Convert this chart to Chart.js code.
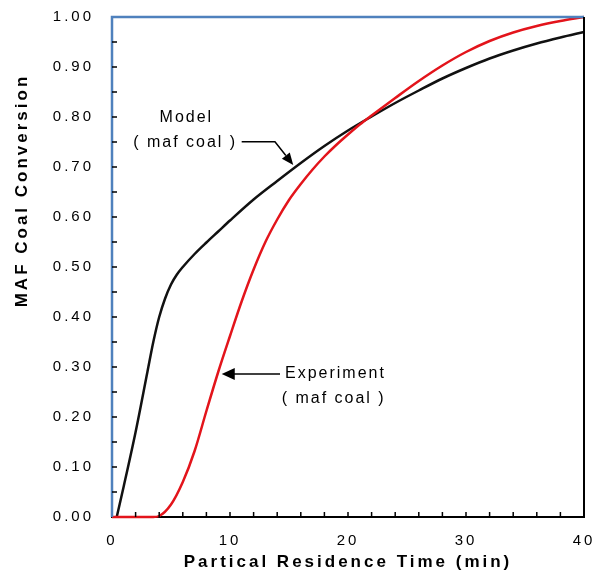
<!DOCTYPE html>
<html>
<head>
<meta charset="utf-8">
<script src="https://cdn.jsdelivr.net/npm/chart.js@4/dist/chart.umd.min.js"></script>
<style>
  html, body { margin: 0; padding: 0; background: #fff; }
</style>
</head>
<body>
<canvas id="chart" width="596" height="577"></canvas>
<script>
// residence time (min) and conversion
const modelTime = [0.4, 1, 2, 3, 3.5, 4, 4.5, 5, 5.5, 6, 7, 8, 9, 10, 12, 14, 16, 18, 20, 22, 24, 26, 28, 30, 32, 34, 36, 38, 40];
const modelConv = [0, 0.062, 0.17, 0.29, 0.35, 0.40, 0.437, 0.465, 0.485, 0.50, 0.526, 0.549, 0.571, 0.593, 0.635, 0.672, 0.708, 0.742, 0.773, 0.801, 0.828, 0.853, 0.877, 0.898, 0.917, 0.933, 0.947, 0.959, 0.97];

const expTime = [0, 3.5, 4, 5, 6, 7, 8, 9, 10, 11, 12, 13, 14, 15, 16, 17, 18, 19, 20, 21, 22, 24, 26, 28, 30, 32, 34, 36, 38, 40];
const expConv = [0, 0, 0.002, 0.025, 0.07, 0.132, 0.212, 0.29, 0.362, 0.432, 0.495, 0.55, 0.595, 0.634, 0.666, 0.695, 0.721, 0.744, 0.765, 0.785, 0.803, 0.838, 0.872, 0.903, 0.93, 0.952, 0.969, 0.982, 0.992, 1.0];

const boundTime = [0, 0, 40];
const boundConv = [0, 1, 1];

const toPoints = (xs, ys) => xs.map((x, i) => ({ x: x, y: ys[i] }));

const FONT = '"Liberation Sans", Arial, sans-serif';

// the original lettering is widely spaced
const spacing = {
  id: 'spacing',
  beforeLayout(chart) { chart.ctx.letterSpacing = '3px'; },
  beforeDraw(chart) { chart.ctx.letterSpacing = '3px'; }
};

// inside tick marks, right border, y title and the two callouts
const extras = {
  id: 'extras',
  afterDatasetsDraw(chart) {
    const ctx = chart.ctx;
    const x = chart.scales.x, y = chart.scales.y;
    const a = chart.chartArea;
    ctx.save();
    ctx.strokeStyle = '#000';
    ctx.fillStyle = '#000';
    ctx.lineWidth = 2;
    ctx.beginPath();
    ctx.moveTo(a.right, a.top);
    ctx.lineTo(a.right, a.bottom);
    ctx.stroke();

    ctx.lineWidth = 1.5;
    ctx.beginPath();
    for (let t = 2; t < 40; t += 2) {
      const px = x.getPixelForValue(t);
      ctx.moveTo(px, a.bottom);
      ctx.lineTo(px, a.bottom - 5);
    }
    for (let v = 0.05; v < 1; v += 0.05) {
      const py = y.getPixelForValue(v);
      ctx.moveTo(a.left, py);
      ctx.lineTo(a.left + 5, py);
    }
    ctx.stroke();

    // y axis title
    ctx.save();
    ctx.translate(22, 192);
    ctx.rotate(-Math.PI / 2);
    ctx.letterSpacing = '3px';
    ctx.font = 'bold 17px ' + FONT;
    ctx.textAlign = 'center';
    ctx.textBaseline = 'middle';
    ctx.fillText('MAF Coal Conversion', 1.5, 0);
    ctx.restore();

    ctx.letterSpacing = '2px';
    ctx.font = '16px ' + FONT;
    ctx.textBaseline = 'middle';
    ctx.textAlign = 'center';
    ctx.fillText('Model', x.getPixelForValue(6.3), y.getPixelForValue(0.798));
    ctx.fillText('( maf coal )', x.getPixelForValue(6.2), y.getPixelForValue(0.748));
    ctx.textAlign = 'left';
    ctx.fillText('Experiment', x.getPixelForValue(14.66), y.getPixelForValue(0.287));
    ctx.fillText('( maf coal )', x.getPixelForValue(14.38), y.getPixelForValue(0.237));

    // model arrow
    const hy = y.getPixelForValue(0.7506);
    const bendX = x.getPixelForValue(13.81);
    const tipX = x.getPixelForValue(15.36), tipY = y.getPixelForValue(0.704);
    const ang = Math.atan2(tipY - hy, tipX - bendX);
    const hl = 12, hw = 5;
    ctx.lineWidth = 1.5;
    ctx.beginPath();
    ctx.moveTo(x.getPixelForValue(10.99), hy);
    ctx.lineTo(bendX, hy);
    ctx.lineTo(tipX - hl * Math.cos(ang), tipY - hl * Math.sin(ang));
    ctx.stroke();
    ctx.beginPath();
    ctx.moveTo(tipX, tipY);
    ctx.lineTo(tipX - hl * Math.cos(ang) + hw * Math.sin(ang), tipY - hl * Math.sin(ang) - hw * Math.cos(ang));
    ctx.lineTo(tipX - hl * Math.cos(ang) - hw * Math.sin(ang), tipY - hl * Math.sin(ang) + hw * Math.cos(ang));
    ctx.closePath();
    ctx.fill();

    // experiment arrow
    const ey = y.getPixelForValue(0.286);
    const ex = x.getPixelForValue(9.3);
    ctx.beginPath();
    ctx.moveTo(x.getPixelForValue(14.24), ey);
    ctx.lineTo(ex + 10, ey);
    ctx.stroke();
    ctx.beginPath();
    ctx.moveTo(ex, ey);
    ctx.lineTo(ex + 13, ey - 6);
    ctx.lineTo(ex + 13, ey + 6);
    ctx.closePath();
    ctx.fill();
    ctx.restore();
  }
};

new Chart(document.getElementById('chart'), {
  type: 'scatter',
  data: {
    datasets: [
      {
        label: 'Bound',
        data: toPoints(boundTime, boundConv),
        showLine: true,
        borderColor: '#4f81bd',
        borderWidth: 2.5,
        pointRadius: 0,
        clip: 4
      },
      {
        label: 'Experiment',
        data: toPoints(expTime, expConv),
        showLine: true,
        borderColor: '#e3141b',
        borderWidth: 2.5,
        pointRadius: 0,
        cubicInterpolationMode: 'monotone',
        clip: 4
      },
      {
        label: 'Model',
        data: toPoints(modelTime, modelConv),
        showLine: true,
        borderColor: '#111',
        borderWidth: 2.5,
        pointRadius: 0,
        cubicInterpolationMode: 'monotone',
        clip: 4
      }
    ]
  },
  options: {
    responsive: false,
    animation: false,
    layout: { padding: { top: 17, right: 12, left: 0, bottom: 0 } },
    plugins: { legend: { display: false }, tooltip: { enabled: false } },
    scales: {
      x: {
        type: 'linear',
        min: 0, max: 40,
        afterFit(s) { s.height = 60; s.paddingLeft = 0; s.paddingRight = 0; },
        grid: { display: false, drawTicks: false },
        border: { display: true, color: '#000', width: 2 },
        ticks: {
          stepSize: 10,
          padding: 15,
          color: '#000',
          font: { family: FONT, size: 15 }
        },
        title: {
          display: true,
          text: 'Partical Residence Time (min)',
          color: '#000',
          padding: { top: 0, bottom: 4 },
          font: { family: FONT, size: 17, weight: 'bold' }
        }
      },
      y: {
        type: 'linear',
        min: 0, max: 1,
        afterFit(s) { s.width = 112; s.paddingTop = 0; s.paddingBottom = 0; },
        grid: { display: false, drawTicks: false },
        border: { display: true, color: '#000', width: 2 },
        ticks: {
          stepSize: 0.1,
          padding: 18,
          color: '#000',
          callback: v => v.toFixed(2),
          font: { family: FONT, size: 15 }
        },
        title: { display: false }
      }
    }
  },
  plugins: [spacing, extras]
});
</script>
</body>
</html>
